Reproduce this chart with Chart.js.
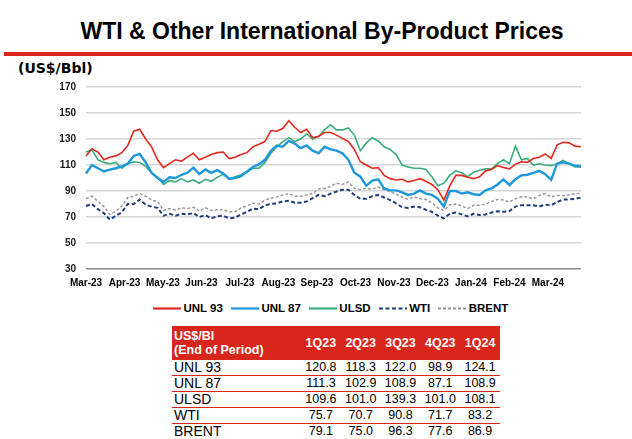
<!DOCTYPE html>
<html>
<head>
<meta charset="utf-8">
<script src="https://cdn.jsdelivr.net/npm/chart.js@4.4.1/dist/chart.umd.min.js"></script>
<style>
  html, body { margin: 0; padding: 0; background: #fff; }
  body { width: 632px; height: 439px; position: relative; overflow: hidden; font-family: 'Liberation Sans', Arial, sans-serif; }
  #title { position: absolute; left: 0; width: 644px; top: 20px; text-align: center; font-weight: bold; font-size: 23px; line-height: 23px; color: #000; }
  #rule { position: absolute; left: 4px; top: 52px; width: 628px; height: 4px; background: #d8261c; }
  #unit { position: absolute; left: 18px; top: 60px; font-family: 'DejaVu Sans', sans-serif; font-weight: bold; font-size: 14px; line-height: 16px; color: #000; }
  #chartBox { position: absolute; left: 0; top: 71px; }
  #legend { position: absolute; left: 153px; top: 301px; display: flex; align-items: center; font-weight: bold; font-size: 11.5px; line-height: 14px; color: #000; white-space: nowrap; }
  #legend .item { display: flex; align-items: center; margin-right: 8px; }
  #legend svg { margin-right: 2.5px; }
  #tbl { position: absolute; left: 172px; top: 326px; border-collapse: collapse; width: 328px; table-layout: fixed; }
  #tbl th { background: #d8261c; color: #fff; font-weight: bold; font-size: 12.5px; line-height: 14px; padding: 0; height: 34px; }
  #tbl th.lbl { text-align: left; padding-left: 2px; }
  #tbl td { font-size: 12.5px; line-height: 15px; height: 15px; padding: 0; text-align: center; color: #000; border-bottom: 1px solid #d8261c; }
  #tbl td.lbl { text-align: left; padding-left: 2px; font-size: 14px; }
  #tbl tr:last-child td { border-bottom: none; }
</style>
</head>
<body>
<div id="title">WTI &amp; Other International By-Product Prices</div>
<div id="rule"></div>
<div id="unit">(US$/Bbl)</div>
<div id="chartBox"><canvas id="priceChart" width="600" height="218"></canvas></div>
<div id="legend"></div>
<table id="tbl"></table>

<script>
// month tick labels along the bottom
const monthLabels = ['Mar-23', 'Apr-23', 'May-23', 'Jun-23', 'Jul-23', 'Aug-23', 'Sep-23',
  'Oct-23', 'Nov-23', 'Dec-23', 'Jan-24', 'Feb-24', 'Mar-24'];
// last sample sits a little before Apr-24
const monthSpan = 12.86;

// sampled prices, Mar-23 .. end Mar-24 (US$/Bbl)
const unl93 = [117, 122.5, 120, 114, 116, 117, 119.5, 125, 136, 137.5,
  130, 124, 114, 108, 111, 114, 113, 116, 119, 114,
  116, 118, 119.5, 120, 115, 116, 118, 119.5, 124, 126,
  128, 136.5, 136, 138, 144, 139, 135, 137.5, 131, 132,
  135, 135, 133, 130.5, 128, 122, 112.5, 110, 107.5, 108,
  102, 99.5, 98.5, 99, 97, 98, 99.5, 97.5, 95, 91,
  83, 94, 102, 102, 100.5, 99.5, 101, 105.5, 106.5, 109.5,
  108, 107, 110.5, 112.5, 112, 115, 116, 118.5, 115, 125.5,
  127.5, 127, 124.5, 124];
const unl87 = [103.5, 110, 107.5, 105, 106.5, 107.5, 109, 111, 117, 118.5,
  112, 104, 100, 97, 100.5, 100, 102.5, 104, 108, 103,
  106.5, 104, 106, 103.5, 99.5, 100, 101.5, 105, 108.5, 110.5,
  114, 121, 125, 124, 128.5, 126.5, 123, 125, 121, 119,
  124, 122, 121, 119, 114, 104, 101, 94, 98, 99,
  92, 90.5, 90.5, 89, 87, 88, 90.5, 88, 87, 84,
  78, 90, 90, 88, 89, 87.5, 87, 90.5, 92, 95,
  99, 94.5, 99, 102, 102.5, 104, 105.5, 103, 98.5, 111,
  112, 111, 109.5, 109];
const ulsd = [120, 121.5, 114, 112, 111, 112, 107.5, 111, 112.5, 112,
  109, 103.5, 100.5, 95, 98, 97, 99.5, 97, 98.5, 96,
  99, 97.5, 100.5, 103, 99, 101, 102.5, 104.5, 107.5, 107.5,
  112, 119, 124, 128, 131, 128, 130, 134, 130, 132,
  137, 141, 137, 137, 138.5, 133, 121, 127, 131, 128.5,
  124, 122, 118, 110, 108.5, 107.5, 107.5, 106.5, 101, 94,
  96, 102, 105.5, 104, 101, 104.5, 106, 107, 107, 111,
  114, 111, 124.5, 114, 115, 110, 111, 110, 109.5, 111,
  113.5, 111, 108.5, 108.5];
const wti = [78.5, 80, 76, 73, 68, 71, 73.5, 80, 80, 83.5,
  79.5, 78, 77, 71, 72.5, 71, 72.5, 72, 73, 70,
  71.5, 69, 70.5, 71, 69, 69.5, 72, 74, 76.5, 76,
  79, 80, 80.5, 82, 82.5, 81, 81, 82, 84.5, 87,
  86, 88, 89.5, 91, 91, 87, 84, 84, 86, 87,
  85, 83, 80.5, 77.5, 77, 78, 77.5, 75.5, 74, 71,
  69, 72.5, 73.5, 72, 70.5, 72.5, 71.5, 72, 73.5, 74.5,
  74, 74.5, 78, 79, 79, 79, 78, 79.5, 79, 81.5,
  83.5, 83.5, 84, 85];
const brent = [84, 86, 82, 78, 72, 74.5, 78.5, 85, 86, 88,
  86, 83, 82, 75, 76.5, 75.5, 77, 76.5, 77.5, 74.5,
  77, 75, 75.5, 75.5, 74, 74, 77, 78.5, 80.5, 80,
  83, 84.5, 85.5, 87, 88, 86, 86, 87, 88, 91.5,
  92, 93.5, 96, 95, 97, 92, 91, 92, 91.5, 93,
  91, 89.5, 87.5, 85.5, 83.5, 85.5, 84, 83.5, 81, 77,
  75, 79.5, 80, 78.5, 76.5, 79, 79, 80, 82, 83.5,
  83, 81.5, 84, 85.5, 85.5, 84, 86.5, 88, 85.5, 86.5,
  86.5, 87, 88, 88];

// end-of-period table
const periods = ['1Q23', '2Q23', '3Q23', '4Q23', '1Q24'];
const eopUnl93 = ['120.8', '118.3', '122.0', '98.9', '124.1'];
const eopUnl87 = ['111.3', '102.9', '108.9', '87.1', '108.9'];
const eopUlsd = ['109.6', '101.0', '139.3', '101.0', '108.1'];
const eopWti = ['75.7', '70.7', '90.8', '71.7', '83.2'];
const eopBrent = ['79.1', '75.0', '96.3', '77.6', '86.9'];

const FONT = "'Liberation Sans', Arial, sans-serif";

function line(label, data, color, width, dash) {
  return {
    label: label,
    data: data,
    borderColor: color,
    backgroundColor: color,
    borderWidth: width,
    borderDash: dash || [],
    pointRadius: 0,
    tension: 0,
    fill: false
  };
}

const datasets = [
  line('UNL 93', unl93, '#e3281d', 1.6),
  line('UNL 87', unl87, '#1e98dc', 2.4),
  line('ULSD', ulsd, '#39ae7b', 1.6),
  line('WTI', wti, '#1f3d7a', 2, [4, 2.5]),
  line('BRENT', brent, '#9a9a9a', 1.5, [3, 2])
];

new Chart(document.getElementById('priceChart'), {
  type: 'line',
  data: {
    labels: unl93.map((_, i) => i),
    datasets: datasets
  },
  options: {
    responsive: false,
    animation: false,
    layout: { padding: { top: 0, right: 19, left: 0, bottom: 0 } },
    scales: {
      x: { display: false },
      months: {
        type: 'linear',
        axis: 'x',
        position: 'bottom',
        min: 0,
        max: monthSpan,
        grid: { display: false, drawTicks: false },
        border: { display: false },
        afterBuildTicks: s => { s.ticks = monthLabels.map((_, k) => ({ value: k })); },
        afterFit: s => { s.height = 20; },
        ticks: {
          padding: 8,
          maxRotation: 0,
          autoSkip: false,
          color: '#000',
          font: { family: FONT, size: 10, weight: 'bold' },
          callback: v => monthLabels[v]
        }
      },
      y: {
        min: 30,
        max: 170,
        afterFit: s => { s.width = 86; },
        border: { display: false },
        grid: {
          color: c => (c.tick && c.tick.value === 30) ? '#8a8a8a' : '#d6d6d6',
          lineWidth: 1.5,
          drawTicks: false
        },
        ticks: {
          stepSize: 20,
          padding: 10,
          color: '#1a1a1a',
          font: { family: FONT, size: 10, weight: 'bold' }
        }
      }
    },
    plugins: {
      tooltip: { enabled: false },
      legend: { display: false }
    }
  }
});

// legend row, built from the same dataset styles
const legendBox = document.getElementById('legend');
datasets.forEach(ds => {
  const item = document.createElement('div');
  item.className = 'item';
  const dash = ds.borderDash.length ? ' stroke-dasharray="' + ds.borderDash.join(' ') + '"' : '';
  const w = ds.borderDash.length ? 2 : 2.2;
  item.innerHTML = '<svg width="28" height="14"><line x1="0" y1="7.5" x2="28" y2="7.5" stroke="' +
    ds.borderColor + '" stroke-width="' + w + '"' + dash + '/></svg><span>' + ds.label + '</span>';
  legendBox.appendChild(item);
});

// table under the chart
const tableRows = [
  ['UNL 93', eopUnl93],
  ['UNL 87', eopUnl87],
  ['ULSD', eopUlsd],
  ['WTI', eopWti],
  ['BRENT', eopBrent]
];
const tbl = document.getElementById('tbl');
let html = '<colgroup><col style="width:129px">' + periods.map(() => '<col style="width:39.8px">').join('') + '</colgroup>';
html += '<tr><th class="lbl">US$/BI<br>(End of Period)</th>' + periods.map(p => '<th>' + p + '</th>').join('') + '</tr>';
tableRows.forEach(([name, vals]) => {
  html += '<tr><td class="lbl">' + name + '</td>' + vals.map(v => '<td>' + v + '</td>').join('') + '</tr>';
});
tbl.innerHTML = html;
</script>
</body>
</html>
